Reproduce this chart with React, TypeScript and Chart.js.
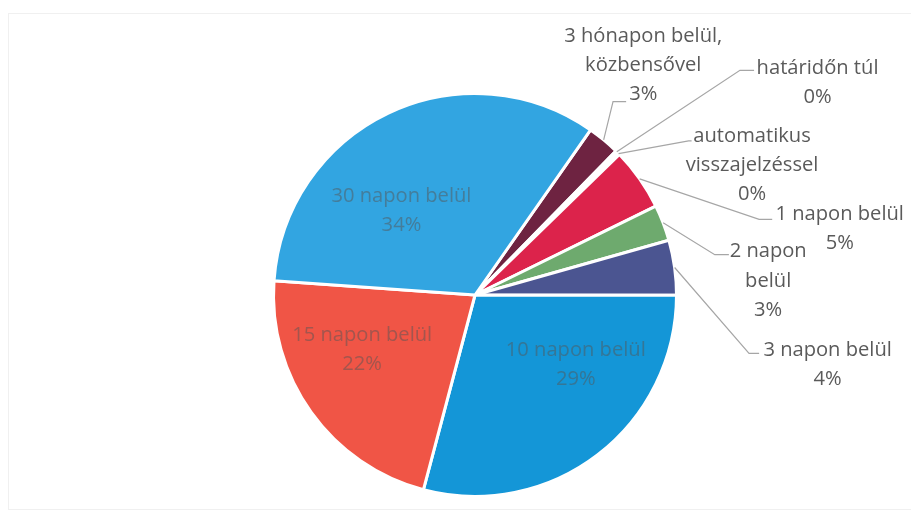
import React, { useEffect, useRef } from "react";
import { Chart, registerables } from "chart.js";

Chart.register(...registerables);

// ---- data ----
const categories: string[][] = [
  ["3 hónapon belül,", "közbensővel"],
  ["határidőn túl"],
  ["automatikus", "visszajelzéssel"],
  ["1 napon belül"],
  ["2 napon", "belül"],
  ["3 napon belül"],
  ["10 napon belül"],
  ["15 napon belül"],
  ["30 napon belül"],
];
const values: number[] = [2.6, 0.2, 0.2, 5.0, 2.9, 4.4, 29.1, 22.0, 33.6];
const colors: string[] = [
  "#6E2341",
  "#A9CBE8",
  "#BFBFBF",
  "#DC234B",
  "#6EAA6E",
  "#4B5591",
  "#1496D7",
  "#F05546",
  "#32A5E1",
];

// ---- label layout (px offsets from pie centre, for a 200px radius) ----
type LabelSpec =
  | { kind: "in"; tx: number; ty: number }
  | { kind: "out"; tx: number; ty: number; path: number[][] };

const labelLayout: LabelSpec[] = [
  { kind: "out", tx: 167, ty: -257, path: [[137, -192], [150, -192]] },
  { kind: "out", tx: 340, ty: -225, path: [[263, -223], [277, -223]] },
  { kind: "out", tx: 275, ty: -158, path: [[212, -153], [215, -153]] },
  { kind: "out", tx: 362, ty: -80, path: [[282, -75], [295, -75]] },
  { kind: "out", tx: 291, ty: -43, path: [[238, -40], [252, -40]] },
  { kind: "out", tx: 350, ty: 55, path: [[272, 58], [282, 58]] },
  { kind: "in", tx: 100, ty: 55 },
  { kind: "in", tx: -112, ty: 40 },
  { kind: "in", tx: -73, ty: -98 },
];

const FONT = '"Open Sans", "DejaVu Sans", sans-serif';

const labelPlugin = {
  id: "pieLabels",
  afterDatasetsDraw(chart: any) {
    const meta = chart.getDatasetMeta(0);
    const ds = chart.data.datasets[0];
    const total = (ds.data as number[]).reduce((a, b) => a + b, 0);
    const ctx = chart.ctx as CanvasRenderingContext2D;
    ctx.save();
    meta.data.forEach((arc: any, i: number) => {
      const spec = labelLayout[i];
      if (!spec) return;
      const { x, y, startAngle, endAngle, outerRadius } = arc.getProps(
        ["x", "y", "startAngle", "endAngle", "outerRadius"],
        true
      );
      const s = outerRadius / 200;
      const pct = Math.round(((ds.data[i] as number) / total) * 100) + "%";
      const lines = [...categories[i], pct];
      const lh = 29 * s;
      ctx.font = `${20 * s}px ${FONT}`;
      ctx.textAlign = "center";
      ctx.textBaseline = "middle";
      if (spec.kind === "out") {
        const mid = (startAngle + endAngle) / 2;
        ctx.strokeStyle = "#A6A6A6";
        ctx.lineWidth = 1.2;
        ctx.beginPath();
        ctx.moveTo(x + Math.cos(mid) * outerRadius, y + Math.sin(mid) * outerRadius);
        spec.path.forEach((p) => ctx.lineTo(x + p[0] * s, y + p[1] * s));
        ctx.stroke();
        ctx.fillStyle = "#5A5A5A";
      } else {
        ctx.fillStyle = "rgba(85,85,85,0.5)";
      }
      lines.forEach((t, k) => {
        ctx.fillText(t, x + spec.tx * s, y + spec.ty * s + k * lh);
      });
    });
    ctx.restore();
  },
};

export default function App() {
  const ref = useRef<HTMLCanvasElement | null>(null);
  useEffect(() => {
    if (!ref.current) return;
    const chart = new Chart(ref.current, {
      type: "pie",
      data: {
        labels: categories,
        datasets: [
          {
            data: values,
            backgroundColor: colors,
            borderColor: "#FFFFFF",
            borderWidth: 3,
          },
        ],
      },
      options: {
        animation: false,
        responsive: true,
        maintainAspectRatio: false,
        rotation: 35,
        layout: { padding: { left: 272, right: 233, top: 92, bottom: 14 } },
        plugins: {
          legend: { display: false },
          tooltip: { enabled: false },
          title: { display: false },
        },
      },
      plugins: [labelPlugin],
    });
    return () => chart.destroy();
  }, []);

  return (
    <div
      style={{
        position: "absolute",
        left: 0,
        top: 0,
        width: 911,
        height: 512,
        background: "#fff",
      }}
    >
      <div
        style={{
          position: "absolute",
          left: 8,
          top: 13,
          width: 902,
          height: 495,
          border: "1px solid #F0F0F0",
          borderRight: "none",
        }}
      />
      <canvas ref={ref} style={{ position: "absolute", left: 0, top: 0 }} />
    </div>
  );
}
